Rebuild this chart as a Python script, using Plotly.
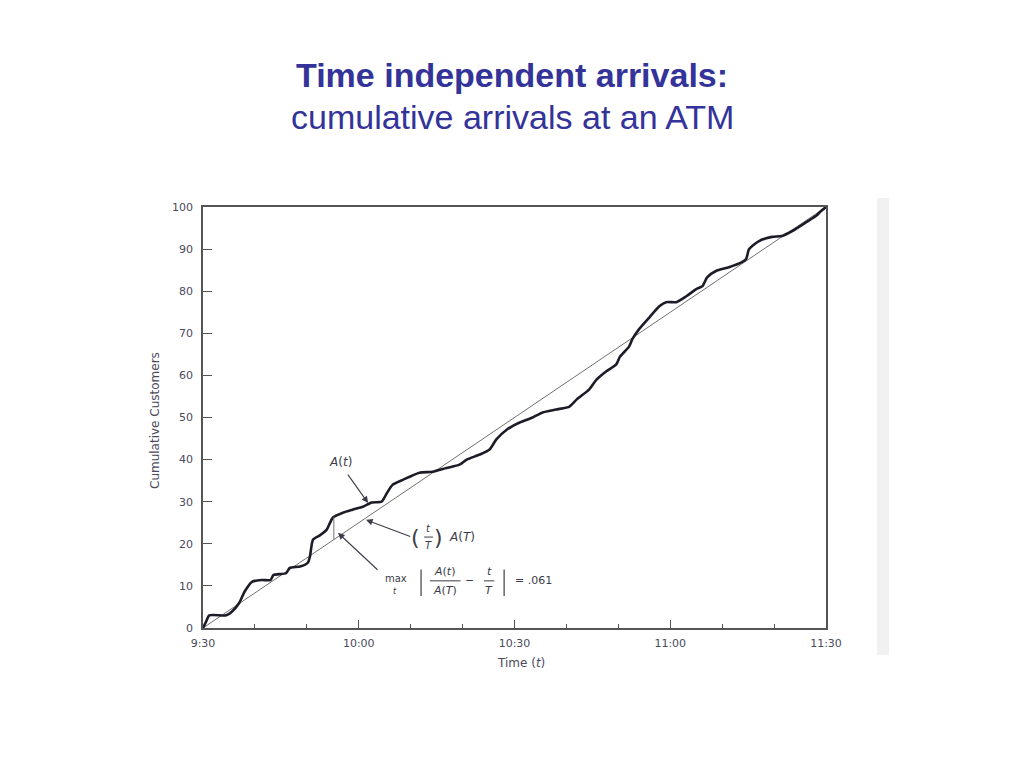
import plotly.graph_objects as go
import numpy as np

# ---- data (minutes after 9:30, cumulative customers) ----
t_minutes = [0, 0.6, 1.2, 4.5, 5.5, 7, 8, 9.5, 11.3, 13, 13.6, 16, 16.7, 18.7, 20.2, 20.6,
             21.2, 22.5, 23.8, 25, 27, 28.8, 30.8, 32.5, 34.4, 35.4, 36.5, 38.5, 41.7, 44.2,
             46.9, 49.4, 50.8, 53.3, 55.2, 56.5, 58.5, 61, 63.5, 65.4, 68, 70.6, 72, 74.4,
             75.8, 77.7, 79.6, 80.3, 82.1, 82.7, 84, 86, 87.9, 89.2, 91.2, 93.1, 95, 96.2,
             97.1, 98.8, 101.3, 103.8, 104.6, 105.2, 107.1, 109.6, 111.5, 113.5, 116.2,
             118.1, 119, 120]
cum_customers = [0, 1.5, 3, 3, 3.8, 6, 8.6, 11, 11.4, 11.4, 12.6, 13, 14.3, 14.6, 15.5, 17,
                 21, 22, 23.3, 26.2, 27.4, 28.1, 28.8, 29.8, 30, 32, 34, 35.2, 36.9, 37.1,
                 38, 38.8, 40, 41.2, 42.4, 44.8, 47.1, 48.8, 50, 51.2, 51.9, 52.6, 54.3, 56.7,
                 59, 61, 62.6, 64.4, 66.9, 68.6, 71, 73.8, 76.4, 77.4, 77.4, 78.8, 80.5, 81.2,
                 83.3, 84.8, 85.7, 86.9, 87.6, 90, 91.9, 92.9, 93.1, 94.3, 96.4, 97.9, 99, 100]
uniform_t = [0, 120]
uniform_y = [0, 100]
max_dev_t = 25.2

x_tick_vals = [0, 30, 60, 90, 120]
x_tick_text = ["9:30", "10:00", "10:30", "11:00", "11:30"]
x_minor_vals = [10, 20, 40, 50, 70, 80, 100, 110]
y_tick_vals = list(range(0, 101, 10))

INK = "#3c3c48"
FONT = "DejaVu Sans, Liberation Sans, sans-serif"
TXT = dict(family=FONT, size=11, color="#4a4a5c")
LBL = dict(family=FONT, size=12, color="#4a4a5c")

# page offset of the plot (body margin)
OFF = 8
FW, FH = 1024 - OFF - 6, 768 - OFF - 6
# plot area in page pixels
PL, PR, PT, PB = 203, 826, 207, 628
L, R, T, B = PL - OFF, PR - OFF, PT - OFF, PB - OFF
W, H = R - L, B - T

def px(xp):
    return (xp - PL) / W

def py(yp):
    return (PB - yp) / H

fig = go.Figure()
fig.add_trace(go.Scatter(x=uniform_t, y=uniform_y, mode="lines",
                         line=dict(color="#707070", width=1), hoverinfo="skip"))
fig.add_trace(go.Scatter(x=t_minutes, y=cum_customers, mode="lines",
                         line=dict(color="#1c1c28", width=2.6, shape="spline", smoothing=0.6),
                         hoverinfo="skip"))
dev_lo = np.interp(max_dev_t, uniform_t, uniform_y)
dev_hi = np.interp(max_dev_t, t_minutes, cum_customers)
fig.add_trace(go.Scatter(x=[max_dev_t, max_dev_t], y=[dev_lo, dev_hi], mode="lines",
                         line=dict(color="#777777", width=1), hoverinfo="skip"))

def txt(x, y, s, size=11, **kw):
    d = dict(x=x, y=y, xref="x", yref="y", text=s, showarrow=False,
             xanchor="center", yanchor="middle",
             font=dict(family=FONT, size=size, color=INK))
    d.update(kw)
    fig.add_annotation(**d)

def arrow(x0, y0, x1, y1):
    fig.add_annotation(x=x1, y=y1, ax=x0, ay=y0, xref="x", yref="y", axref="x", ayref="y",
                       text="", showarrow=True, arrowhead=2, arrowsize=1.2, arrowwidth=1.1,
                       arrowcolor=INK)

# A(t)
txt(26.4, 39.4, "<i>A</i>(<i>t</i>)", size=12)
arrow(27.7, 36.8, 31.8, 29.7)
# (t/T) A(T)
txt(41.0, 21.6, "(", size=22)
txt(43.4, 23.6, "<i>t</i>", size=10)
txt(43.4, 19.7, "<i>T</i>", size=10)
txt(45.4, 21.6, ")", size=22)
txt(49.9, 21.6, "<i>A</i>(<i>T</i>)", size=12)
arrow(40.2, 21.6, 31.4, 25.7)
# max expression
txt(37.2, 11.7, "max", size=10)
txt(37.0, 8.6, "<i>t</i>", size=8)
txt(46.6, 13.4, "<i>A</i>(<i>t</i>)", size=11)
txt(46.6, 9.0, "<i>A</i>(<i>T</i>)", size=11)
txt(51.4, 11.3, "−", size=11)
txt(55.1, 13.4, "<i>t</i>", size=11)
txt(55.1, 9.0, "<i>T</i>", size=11)
txt(63.6, 11.4, "= .061", size=11)
arrow(33.9, 13.5, 26.0, 22.6)

shapes = []
def seg(x0, y0, x1, y1, w=1):
    shapes.append(dict(type="line", xref="x", yref="y", x0=x0, y0=y0, x1=x1, y1=y1,
                       line=dict(color=INK, width=w)))
seg(42.6, 21.6, 44.3, 21.6)
seg(43.7, 11.2, 49.6, 11.2)
seg(54.1, 11.2, 56.1, 11.2)
seg(42.0, 13.9, 42.0, 7.6, 1.2)
seg(58.0, 13.9, 58.0, 7.6, 1.2)
# faint scan edge on the right
shapes.append(dict(type="rect", xref="paper", yref="paper", x0=px(877), x1=px(889),
                   y0=py(655), y1=py(198), fillcolor="#f1f1f1", line=dict(width=0), layer="below"))

TITLE = dict(family="Liberation Sans, Arial, sans-serif", size=34, color="#333399")
fig.add_annotation(x=px(512), y=py(75), xref="paper", yref="paper", showarrow=False,
                   xanchor="center", yanchor="middle",
                   text="<b>Time independent arrivals:</b>", font=TITLE)
fig.add_annotation(x=px(512), y=py(117), xref="paper", yref="paper", showarrow=False,
                   xanchor="center", yanchor="middle",
                   text="cumulative arrivals at an ATM", font=TITLE)
fig.add_annotation(x=px(155), y=py(421), xref="paper", yref="paper", showarrow=False,
                   xanchor="center", yanchor="middle",
                   text="Cumulative Customers", textangle=-90, font=LBL)
fig.add_annotation(x=px(521), y=py(663), xref="paper", yref="paper", showarrow=False,
                   xanchor="center", yanchor="middle",
                   text="Time (<i>t</i>)", font=LBL)

fig.update_layout(
    width=FW, height=FH, showlegend=False,
    margin=dict(l=L, r=FW - R, t=T, b=FH - B, pad=0),
    paper_bgcolor="white", plot_bgcolor="white",
    shapes=shapes,
    xaxis=dict(range=[0, 120], tickmode="array", tickvals=x_tick_vals, ticktext=x_tick_text,
               ticks="inside", ticklen=8, tickcolor="#555", showgrid=False, zeroline=False,
               showline=True, linecolor="#555", linewidth=1.8, mirror=True,
               tickfont=TXT, ticklabelstandoff=4,
               minor=dict(tickvals=x_minor_vals, ticks="inside", ticklen=4, tickcolor="#555")),
    yaxis=dict(range=[0, 100], tickmode="array", tickvals=y_tick_vals,
               ticks="inside", ticklen=9, tickcolor="#555", showgrid=False, zeroline=False,
               showline=True, linecolor="#555", linewidth=1.8, mirror=True,
               tickfont=TXT, ticklabelstandoff=6),
)

fig.write_html("out.html")
